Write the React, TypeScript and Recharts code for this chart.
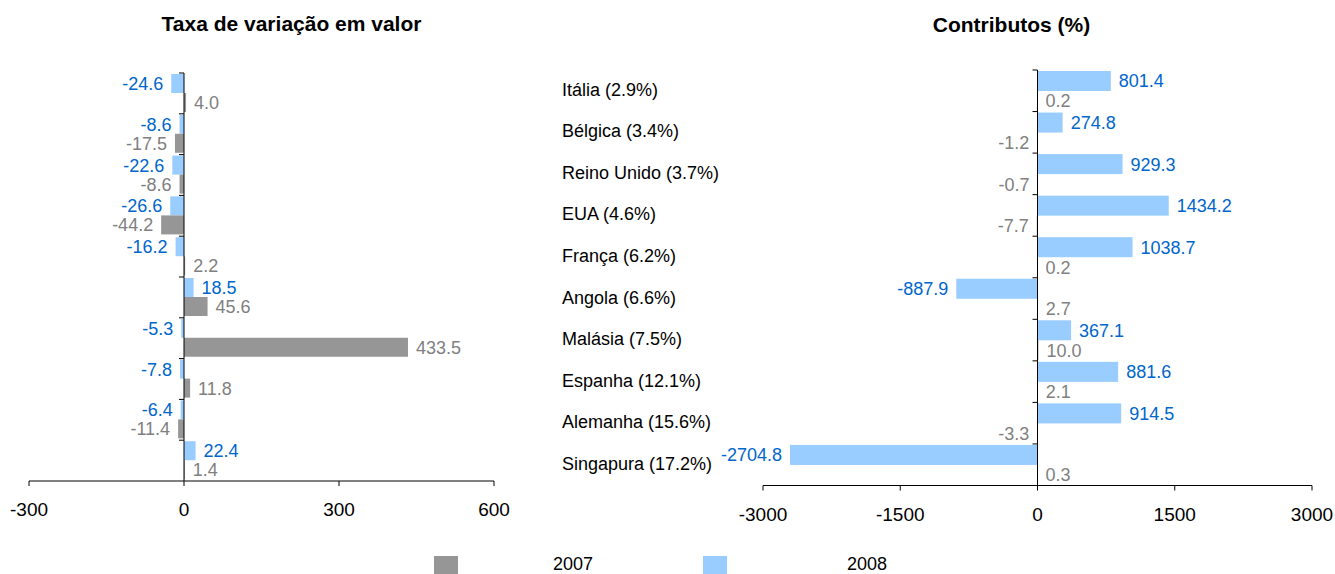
import { BarChart, Bar, XAxis, YAxis, ReferenceLine, LabelList } from "recharts";

const countries = [
  "Itália (2.9%)",
  "Bélgica (3.4%)",
  "Reino Unido (3.7%)",
  "EUA (4.6%)",
  "França (6.2%)",
  "Angola (6.6%)",
  "Malásia (7.5%)",
  "Espanha (12.1%)",
  "Alemanha (15.6%)",
  "Singapura (17.2%)",
];
const years = ["2007", "2008"];

const taxa2007 = [4.0, -17.5, -8.6, -44.2, 2.2, 45.6, 433.5, 11.8, -11.4, 1.4];
const taxa2008 = [-24.6, -8.6, -22.6, -26.6, -16.2, 18.5, -5.3, -7.8, -6.4, 22.4];
const contrib2007 = [0.2, -1.2, -0.7, -7.7, 0.2, 2.7, 10.0, 2.1, -3.3, 0.3];
const contrib2008 = [801.4, 274.8, 929.3, 1434.2, 1038.7, -887.9, 367.1, 881.6, 914.5, -2704.8];

const taxaTicks = [-300, 0, 300, 600];
const contribTicks = [-3000, -1500, 0, 1500, 3000];

const GRAY = "#969696";
const BLUE = "#99CCFF";
const GRAY_TXT = "#808080";
const BLUE_TXT = "#0066CC";
const FONT = "'Liberation Sans', Arial, sans-serif";

const taxaData = countries.map((name, i) => ({ name, y2007: taxa2007[i], y2008: taxa2008[i] }));
const contribData = countries.map((name, i) => ({ name, y2007: contrib2007[i], y2008: contrib2008[i] }));

// value label just outside the end of the bar
const makeLabel = (color: string) => (props: any) => {
  const x = Number(props.x);
  const y = Number(props.y);
  const width = Number(props.width);
  const height = Number(props.height);
  const value = Number(props.value);
  const pos = value >= 0;
  const end = pos ? Math.max(x, x + width) : Math.min(x, x + width);
  return (
    <text
      x={pos ? end + 8 : end - 8}
      y={y + height / 2}
      dy="0.36em"
      textAnchor={pos ? "start" : "end"}
      fill={color}
      fontSize={18}
      fontFamily={FONT}
    >
      {value.toFixed(1)}
    </text>
  );
};

// top bar of each band also draws the small category tick on the zero axis
const bandShape = (key: string) => (props: any) => {
  const { x, y, width, height, fill, payload } = props;
  const value = payload[key];
  const left = Math.min(x, x + width);
  const zeroX = value >= 0 ? left : Math.max(x, x + width);
  return (
    <g>
      <rect x={left} y={y} width={Math.abs(width)} height={height} fill={fill} />
      <line x1={zeroX - 5} x2={zeroX} y1={y - 1} y2={y - 1} stroke="#000" />
    </g>
  );
};

const CountryTick = (props: any) => {
  const { y, payload } = props;
  return (
    <text x={22} y={y} dy={5} fill="#000" fontSize={18} fontFamily={FONT}>
      {payload.value}
    </text>
  );
};

const tickStyle = { fill: "#000", fontSize: 19, fontFamily: FONT };

export default function App() {
  return (
    <div style={{ position: "absolute", left: 0, top: 0, width: 1335, height: 574, background: "#fff" }}>
      <svg width={1335} height={574} style={{ position: "absolute", left: 0, top: 0 }}>
        <text x={291.5} y={31} textAnchor="middle" fontWeight="bold" fontSize={21} fontFamily={FONT}>
          Taxa de variação em valor
        </text>
        <text x={1011.5} y={31.5} textAnchor="middle" fontWeight="bold" fontSize={21} fontFamily={FONT}>
          Contributos (%)
        </text>
        {years.map((yr, i) => (
          <g key={yr}>
            <rect x={434 + i * 269} y={556} width={24} height={18} fill={i === 0 ? GRAY : BLUE} />
            <text x={553 + i * 294} y={570} fontSize={18} fontFamily={FONT} fill="#000">
              {yr}
            </text>
          </g>
        ))}
      </svg>

      <div style={{ position: "absolute", left: 0, top: 0 }}>
        <BarChart
          width={520}
          height={540}
          data={taxaData}
          layout="vertical"
          margin={{ top: 73, right: 26, bottom: 19, left: 29 }}
          barCategoryGap={1}
          barGap={0}
        >
          <XAxis
            type="number"
            domain={[-300, 600]}
            ticks={taxaTicks}
            height={40}
            tickSize={5}
            tickMargin={17}
            tick={tickStyle}
            axisLine={{ stroke: "#000" }}
            tickLine={{ stroke: "#000" }}
          />
          <YAxis type="category" dataKey="name" hide />
          <Bar dataKey="y2008" fill={BLUE} isAnimationActive={false} shape={bandShape("y2008")}>
            <LabelList dataKey="y2008" content={makeLabel(BLUE_TXT)} />
          </Bar>
          <Bar dataKey="y2007" fill={GRAY} isAnimationActive={false}>
            <LabelList dataKey="y2007" content={makeLabel(GRAY_TXT)} />
          </Bar>
          <ReferenceLine x={0} stroke="#000" />
        </BarChart>
      </div>

      <div style={{ position: "absolute", left: 540, top: 0 }}>
        <BarChart
          width={795}
          height={545}
          data={contribData}
          layout="vertical"
          margin={{ top: 70, right: 23, bottom: 19.5, left: 0 }}
          barCategoryGap={1}
          barGap={0}
        >
          <XAxis
            type="number"
            domain={[-3000, 3000]}
            ticks={contribTicks}
            height={40}
            tickSize={5}
            tickMargin={17}
            tick={tickStyle}
            axisLine={{ stroke: "#000" }}
            tickLine={{ stroke: "#000" }}
          />
          <YAxis
            type="category"
            dataKey="name"
            width={223}
            interval={0}
            axisLine={false}
            tickLine={false}
            tick={<CountryTick />}
          />
          <Bar dataKey="y2008" fill={BLUE} isAnimationActive={false} shape={bandShape("y2008")}>
            <LabelList dataKey="y2008" content={makeLabel(BLUE_TXT)} />
          </Bar>
          <Bar dataKey="y2007" fill={GRAY} isAnimationActive={false}>
            <LabelList dataKey="y2007" content={makeLabel(GRAY_TXT)} />
          </Bar>
          <ReferenceLine x={0} stroke="#000" />
        </BarChart>
      </div>
    </div>
  );
}
